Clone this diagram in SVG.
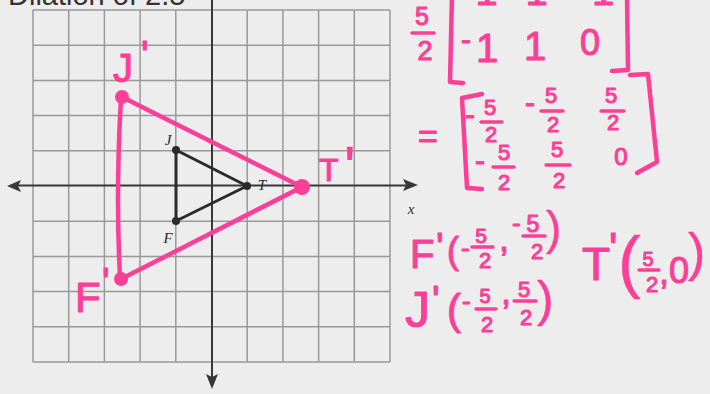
<svg xmlns="http://www.w3.org/2000/svg" width="710" height="394" viewBox="0 0 710 394">
<style>
.grid line{stroke:#999;stroke-width:1.5}
.axis{stroke:#383838;stroke-width:2;fill:none}
.ah{fill:#383838}
.blk{stroke:#2b2b2b;stroke-width:3;fill:none;stroke-linecap:round;stroke-linejoin:round}
.bdot{fill:#2b2b2b}
.blab{font-family:"Liberation Serif",serif;font-style:italic;font-size:15px;fill:#2b2b2b;text-anchor:middle}
.pline{stroke:#fb3f96;stroke-width:4.5;fill:none;stroke-linecap:round;stroke-linejoin:round}
.pdot{fill:#fb3f96}
.pk{font-family:"Liberation Sans",Arial,sans-serif;fill:#fb3f96;stroke:#fb3f96;stroke-width:1.1;stroke-linejoin:round}
.pt{stroke-width:0.4}
.c{text-anchor:middle}
.s{text-anchor:start}
.bar{stroke:#fb3f96;stroke-width:3.4;stroke-linecap:round;fill:none}
.title{font-family:"Liberation Sans",Arial,sans-serif;font-size:29px;fill:#333}
</style>
<rect x="0" y="0" width="710" height="394" fill="#ededed"/>
<text class="title" x="8" y="5">Dilation of 2.5</text>
<g id="grid" class="grid">
<line x1="33" y1="10" x2="33" y2="362"/>
<line x1="68.7" y1="10" x2="68.7" y2="362"/>
<line x1="104.4" y1="10" x2="104.4" y2="362"/>
<line x1="140.1" y1="10" x2="140.1" y2="362"/>
<line x1="175.8" y1="10" x2="175.8" y2="362"/>
<line x1="247.2" y1="10" x2="247.2" y2="362"/>
<line x1="282.9" y1="10" x2="282.9" y2="362"/>
<line x1="318.6" y1="10" x2="318.6" y2="362"/>
<line x1="354.3" y1="10" x2="354.3" y2="362"/>
<line x1="390" y1="10" x2="390" y2="362"/>
<line x1="33" y1="10" x2="390" y2="10"/>
<line x1="33" y1="45.2" x2="390" y2="45.2"/>
<line x1="33" y1="80.4" x2="390" y2="80.4"/>
<line x1="33" y1="115.6" x2="390" y2="115.6"/>
<line x1="33" y1="150.8" x2="390" y2="150.8"/>
<line x1="33" y1="221.2" x2="390" y2="221.2"/>
<line x1="33" y1="256.4" x2="390" y2="256.4"/>
<line x1="33" y1="291.6" x2="390" y2="291.6"/>
<line x1="33" y1="326.8" x2="390" y2="326.8"/>
<line x1="33" y1="362" x2="390" y2="362"/>
</g>
<g id="axes">
<line class="axis" x1="12" y1="185.5" x2="410" y2="185.5"/>
<line class="axis" x1="212" y1="0" x2="212" y2="380"/>
<path class="ah" d="M418,185 L403,179 L406,185 L403,191 Z"/>
<path class="ah" d="M7,186 L21,180 L18,186 L21,192 Z"/>
<path class="ah" d="M212,389 L206,374 L212,377 L218,374 Z"/>
<text class="blab" x="411" y="214" font-size="14">x</text>
</g>
<g id="connectors">
<path class="blk" d="M176,150 L247,186 L176,221 Z"/>
<path class="pline" d="M122,97 L302,187"/>
<path class="pline" d="M302,187 L121,279"/>
<path class="pline" d="M121,99 C118,150 117,220 120,277"/>
</g>
<g id="node-J"><circle class="bdot" cx="176" cy="150" r="4"/><text class="blab" x="168" y="145">J</text></g>
<g id="node-T"><circle class="bdot" cx="247" cy="186" r="4"/><text class="blab" x="262" y="190">T</text></g>
<g id="node-F"><circle class="bdot" cx="176" cy="221" r="4"/><text class="blab" x="168" y="243">F</text></g>
<g id="node-Jprime"><circle class="pdot" cx="122" cy="97" r="7"/><text class="pk" x="113" y="82" font-size="40">J<tspan x="141" y="69">'</tspan></text></g>
<g id="node-Tprime"><circle class="pdot" cx="302" cy="187" r="8"/><text class="pk" x="319" y="181" font-size="32">T<tspan class="pt" x="344" y="188" font-size="60">'</tspan></text></g>
<g id="node-Fprime"><circle class="pdot" cx="121" cy="279" r="7"/><text class="pk" x="75" y="312" font-size="42">F<tspan x="102" y="296" font-size="40">'</tspan></text></g>
<g id="matrix-work">
<text class="pk c" x="422" y="25" font-size="25">5</text>
<line class="bar" x1="412" y1="33" x2="434" y2="33"/>
<text class="pk c" x="425" y="60" font-size="27">2</text>
<path class="pline" d="M452,-5 L450,82 L463,83"/>
<path class="pline" d="M627,-5 L628,70 L612,71"/>
<text class="pk c" x="480" y="5" font-size="40">-1</text>
<text class="pk c" x="530" y="5" font-size="40">-1</text>
<text class="pk c" x="603" y="5" font-size="40">1</text>
<text class="pk" x="461" y="50" font-size="30">-</text>
<text class="pk c" x="487" y="62" font-size="40">1</text>
<text class="pk c" x="535" y="60" font-size="40">1</text>
<text class="pk c" x="590" y="55" font-size="36">0</text>
<text class="pk" x="418" y="148" font-size="34">=</text>
<path class="pline" d="M482,94 L462,98 L467,188 L482,189"/>
<path class="pline" d="M630,75 L648,74 L657,162 L637,173"/>
<text class="pk" x="465" y="125" font-size="30">-</text>
<text class="pk c" x="490" y="115" font-size="22">5</text>
<line class="bar" x1="481" y1="122" x2="502" y2="122"/>
<text class="pk c" x="491" y="142" font-size="22">2</text>
<text class="pk" x="525" y="113" font-size="30">-</text>
<text class="pk c" x="551" y="103" font-size="22">5</text>
<line class="bar" x1="541" y1="111" x2="563" y2="111"/>
<text class="pk c" x="553" y="132" font-size="22">2</text>
<text class="pk c" x="611" y="103" font-size="22">5</text>
<line class="bar" x1="601" y1="111" x2="624" y2="111"/>
<text class="pk c" x="613" y="130" font-size="22">2</text>
<text class="pk" x="475" y="171" font-size="30">-</text>
<text class="pk c" x="504" y="160" font-size="22">5</text>
<line class="bar" x1="493" y1="167" x2="514" y2="167"/>
<text class="pk c" x="504" y="190" font-size="22">2</text>
<text class="pk c" x="557" y="157" font-size="22">5</text>
<line class="bar" x1="546" y1="165" x2="570" y2="165"/>
<text class="pk c" x="559" y="188" font-size="22">2</text>
<text class="pk c" x="621" y="165" font-size="24">0</text>
</g>
<g id="coord-Fprime">
<line class="bar" x1="472" y1="247" x2="493" y2="247"/>
<line class="bar" x1="523" y1="236" x2="545" y2="236"/>
<text class="pk" x="410" y="268" font-size="40">F<tspan x="436" y="261">'</tspan><tspan x="447" y="263" font-size="36">(</tspan><tspan x="461" y="257" font-size="26">-</tspan><tspan class="c" x="481" y="243" font-size="21">5</tspan><tspan class="c" x="485" y="268" font-size="22">2</tspan><tspan class="s" x="499" y="251" font-size="36">,</tspan><tspan x="512" y="232" font-size="26">-</tspan><tspan class="c" x="533" y="232" font-size="23">5</tspan><tspan class="c" x="537" y="259" font-size="22">2</tspan><tspan class="s pt" x="546" y="244" font-size="46">)</tspan></text>
</g>
<g id="coord-Jprime">
<line class="bar" x1="476" y1="309" x2="496" y2="309"/>
<line class="bar" x1="514" y1="301" x2="536" y2="301"/>
<text class="pk" x="405" y="327" font-size="50">J<tspan x="432" y="314" font-size="40">'</tspan><tspan x="447" y="324" font-size="42">(</tspan><tspan x="462" y="310" font-size="26">-</tspan><tspan class="c" x="485" y="303" font-size="20">5</tspan><tspan class="c" x="487" y="332" font-size="22">2</tspan><tspan class="s" x="501" y="304" font-size="36">,</tspan><tspan class="c" x="524" y="297" font-size="22">5</tspan><tspan class="c" x="526" y="325" font-size="22">2</tspan><tspan class="s pt" x="537" y="316" font-size="50">)</tspan></text>
</g>
<g id="coord-Tprime">
<line class="bar" x1="639" y1="270" x2="659" y2="270"/>
<text class="pk" x="582" y="280" font-size="46">T<tspan x="609" y="264" font-size="44">'</tspan><tspan class="pt" x="618" y="285" font-size="68">(</tspan><tspan class="c" x="648" y="266" font-size="20">5</tspan><tspan class="c" x="652" y="292" font-size="22">2</tspan><tspan class="s" x="659" y="284" font-size="36">,</tspan><tspan x="669" y="283" font-size="36">0</tspan><tspan class="pt" x="688" y="270" font-size="52">)</tspan></text>
</g>
</svg>
